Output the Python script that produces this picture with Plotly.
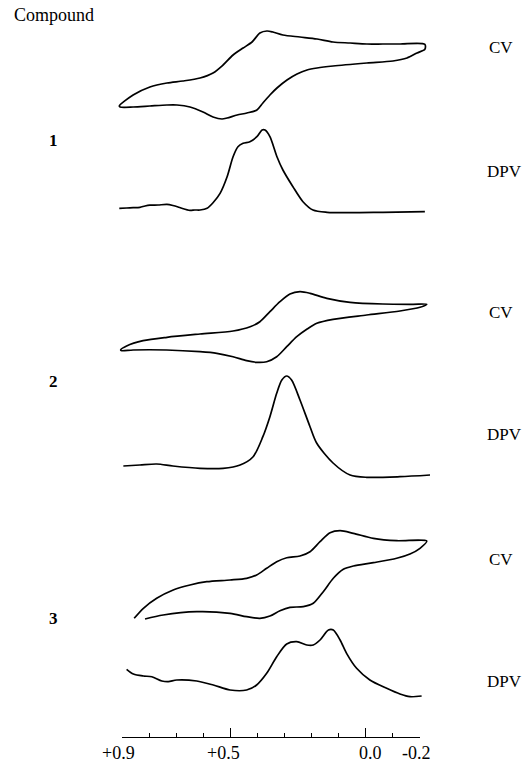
import plotly.graph_objects as go

# ---------------- data (potential in V vs. current in arbitrary units) -------------
cv1_E = [0.910, 0.859, 0.797, 0.734, 0.675, 0.612, 0.564, 0.527, 0.490, 0.453, 0.420, 0.391,
         0.365, 0.343, 0.306, 0.243, 0.180, 0.121, 0.058, -0.004, -0.063, -0.126, -0.218,
         -0.218, -0.189, -0.152, -0.100, -0.004, 0.121, 0.180, 0.217, 0.254, 0.291, 0.328,
         0.354, 0.380, 0.402, 0.439, 0.475, 0.512, 0.531, 0.564, 0.601, 0.649, 0.697, 0.734,
         0.797, 0.859, 0.907, 0.910]
cv1_I = [-31, -20, -12, -8, -6, -3, 2, 10, 20, 27, 33, 42,
         44, 43, 40, 38, 36, 33, 32, 31, 31, 31, 30.7,
         25.7, 22, 17, 14, 12, 9, 7, 5, 1, -5, -13,
         -20, -28, -35, -38, -40, -43, -44, -42, -37, -32, -30, -30,
         -31, -32, -32, -31]

dpv1_E = [0.910, 0.883, 0.859, 0.834, 0.815, 0.797, 0.767, 0.734, 0.712, 0.693, 0.679, 0.649,
          0.631, 0.612, 0.586, 0.564, 0.538, 0.512, 0.490, 0.472, 0.453, 0.428, 0.402, 0.383,
          0.372, 0.354, 0.328, 0.306, 0.269, 0.232, 0.195, 0.143, 0.058, -0.063, -0.218]
dpv1_I = [3.7, 4, 4.3, 4.7, 6.0, 6.8, 7.0, 7.6, 6.5, 5.0, 3.7, 1.6,
          2, 2, 3.7, 9.3, 18.7, 35.3, 55.3, 65.3, 68.7, 70.3, 75.3, 82,
          82, 75.3, 55.3, 42, 25.3, 10.3, 2, -0.3, -0.7, -0.3, 0.3]

cv2_E = [0.905, 0.883, 0.822, 0.734, 0.612, 0.490, 0.427, 0.391, 0.354, 0.317, 0.280, 0.243,
         0.206, 0.144, 0.058, -0.063, -0.174, -0.225,
         -0.200, -0.126, -0.003, 0.121, 0.181, 0.218, 0.255, 0.292, 0.329, 0.366, 0.403,
         0.440, 0.490, 0.550, 0.612, 0.735, 0.859, 0.901, 0.905]
cv2_I = [-20, -16, -10.7, -7.3, -4, -1, 3.3, 8.3, 18.3, 28.3, 36, 38.3,
         36.7, 31.7, 27.7, 26, 25.7, 25.7,
         22.7, 19, 15, 10.7, 6.7, 0.7, -6.7, -16.7, -26.7, -31.7, -32.3,
         -30.7, -26.7, -23.3, -21.7, -20, -20, -20.7, -20]

dpv2_E = [0.895, 0.834, 0.772, 0.712, 0.612, 0.527, 0.464, 0.416, 0.380, 0.354, 0.329, 0.310,
          0.292, 0.274, 0.243, 0.206, 0.181, 0.121, 0.058, -0.003, -0.126, -0.237]
dpv2_I = [10, 11, 12, 10, 7.7, 7.7, 11, 19.3, 39.3, 59.3, 82.7, 96,
          100, 96, 76, 49.3, 32.7, 13, 1, -1.3, -0.7, 1]

cv3_E = [0.855, 0.821, 0.772, 0.711, 0.649, 0.587, 0.501, 0.440, 0.403, 0.366, 0.329, 0.292,
         0.243, 0.206, 0.169, 0.132, 0.095, 0.046, -0.028, -0.114, -0.225,
         -0.200, -0.163, -0.114, -0.028, 0.046, 0.083, 0.120, 0.157, 0.194, 0.231, 0.280,
         0.317, 0.354, 0.391, 0.440, 0.501, 0.624, 0.748, 0.815]
cv3_I = [-38.3, -28.3, -18.3, -10, -5, -1.7, 0, 1.7, 5, 11.7, 18.3, 22.3,
         24, 28.3, 38.3, 47.3, 49.3, 46.7, 41.7, 39.3, 39,
         31.7, 26, 21.7, 17.3, 14, 10.7, 1.7, -11.7, -23.3, -26.7, -27.3,
         -30.7, -36, -38.3, -36.7, -33.3, -31.7, -35, -39]

dpv3_E = [0.883, 0.858, 0.821, 0.790, 0.753, 0.729, 0.698, 0.624, 0.563, 0.501, 0.440, 0.403,
          0.366, 0.329, 0.292, 0.255, 0.218, 0.194, 0.169, 0.138, 0.120, 0.095, 0.071, 0.034,
          -0.015, -0.077, -0.126, -0.163, -0.206]
dpv3_I = [20.7, 16, 14, 13.3, 9, 8.3, 10, 9, 5, 0, 0, 5,
          16.7, 33.3, 46, 48.3, 45, 45, 50, 60, 60, 50, 36.7, 21.7,
          10, 1.7, -4, -6.7, -6]

tick_vals = [0.9, 0.5, 0.0, -0.2]
tick_text = ["+0.9", "+0.5", "0.0", "-0.2"]
minor_vals = [0.8, 0.7, 0.6, 0.4, 0.3, 0.2, 0.1, -0.1]
compounds = ["1", "2", "3"]

# ---------------- layout helpers ----------------
W, H = 524, 765
FONT = "Liberation Serif, Times New Roman, serif"
# vertical offsets (in y-axis units = pixels from bottom) for each trace's baseline
offsets = {"cv1": H - 75, "dpv1": H - 212, "cv2": H - 330,
           "dpv2": H - 476, "cv3": H - 580, "dpv3": H - 690}

def py(p):
    return 1 - p / H

fig = go.Figure()
series = [("cv1", cv1_E, cv1_I), ("dpv1", dpv1_E, dpv1_I),
          ("cv2", cv2_E, cv2_I), ("dpv2", dpv2_E, dpv2_I),
          ("cv3", cv3_E, cv3_I), ("dpv3", dpv3_E, dpv3_I)]
for name, E, I in series:
    fig.add_trace(go.Scatter(
        x=E, y=[offsets[name] + v for v in I], mode="lines",
        line=dict(color="black", width=1.7, shape="spline", smoothing=0.8),
        hoverinfo="skip", showlegend=False))

# invisible trace to realise the potential axis
fig.add_trace(go.Scatter(x=[0.9, -0.2], y=[None, None], xaxis="x2", yaxis="y",
                         mode="lines", showlegend=False, hoverinfo="skip"))

px_per_V = (420 - 122) / 1.1
x_left = 0.9 + 122 / px_per_V
x_right = -0.2 - (W - 420) / px_per_V

annotations = []
label_shift = {0.9: -4, 0.5: -7, 0.0: 5, -0.2: -4}
for v, t in zip(tick_vals, tick_text):
    annotations.append(dict(x=v, xref="x2", y=py(753), yref="paper", text=t,
                            showarrow=False, xshift=label_shift[v],
                            xanchor="center", yanchor="middle", borderpad=0,
                            font=dict(family=FONT, size=18, color="black")))
annotations.append(dict(x=12 / W, xref="paper", y=py(15), yref="paper", text="Compound",
                        xanchor="left", yanchor="middle", showarrow=False,
                        font=dict(family=FONT, size=18, color="black")))
for c, yp in zip(compounds, [140, 381, 618]):
    annotations.append(dict(x=53 / W, xref="paper", y=py(yp), yref="paper",
                            text="<b>" + c + "</b>", showarrow=False,
                            xanchor="center", yanchor="middle",
                            font=dict(family=FONT, size=17, color="black")))
for yp in [47, 312, 559]:
    annotations.append(dict(x=487 / W, xref="paper", y=py(yp), yref="paper", text="CV",
                            xanchor="left", yanchor="middle", showarrow=False,
                            font=dict(family=FONT, size=17, color="black")))
for yp in [171, 434, 681]:
    annotations.append(dict(x=485 / W, xref="paper", y=py(yp), yref="paper", text="DPV",
                            xanchor="left", yanchor="middle", showarrow=False,
                            font=dict(family=FONT, size=17, color="black")))

fig.update_layout(
    width=W, height=H, margin=dict(l=0, r=0, t=0, b=0),
    paper_bgcolor="white", plot_bgcolor="rgba(0,0,0,0)",
    xaxis=dict(range=[x_left, x_right], domain=[0, 1], visible=False,
               showgrid=False, zeroline=False),
    yaxis=dict(range=[0, H], domain=[0, 1], visible=False,
               showgrid=False, zeroline=False),
    xaxis2=dict(range=[0.9, -0.2], domain=[122 / W, 420 / W], anchor="free",
                position=py(737), showline=True, linecolor="black", linewidth=1.3,
                showgrid=False, zeroline=False, ticks="inside", ticklen=9,
                tickwidth=1.3, tickcolor="black", tickmode="array",
                tickvals=tick_vals, showticklabels=False,
                minor=dict(ticks="inside", ticklen=4, tickwidth=1.3, tickcolor="black",
                           tickmode="array", tickvals=minor_vals, showgrid=False)),
    annotations=annotations,
    showlegend=False,
)

fig.write_html("out.html", config={"displayModeBar": False},
               post_script="document.body.style.margin='0';document.body.style.overflow='hidden';")
